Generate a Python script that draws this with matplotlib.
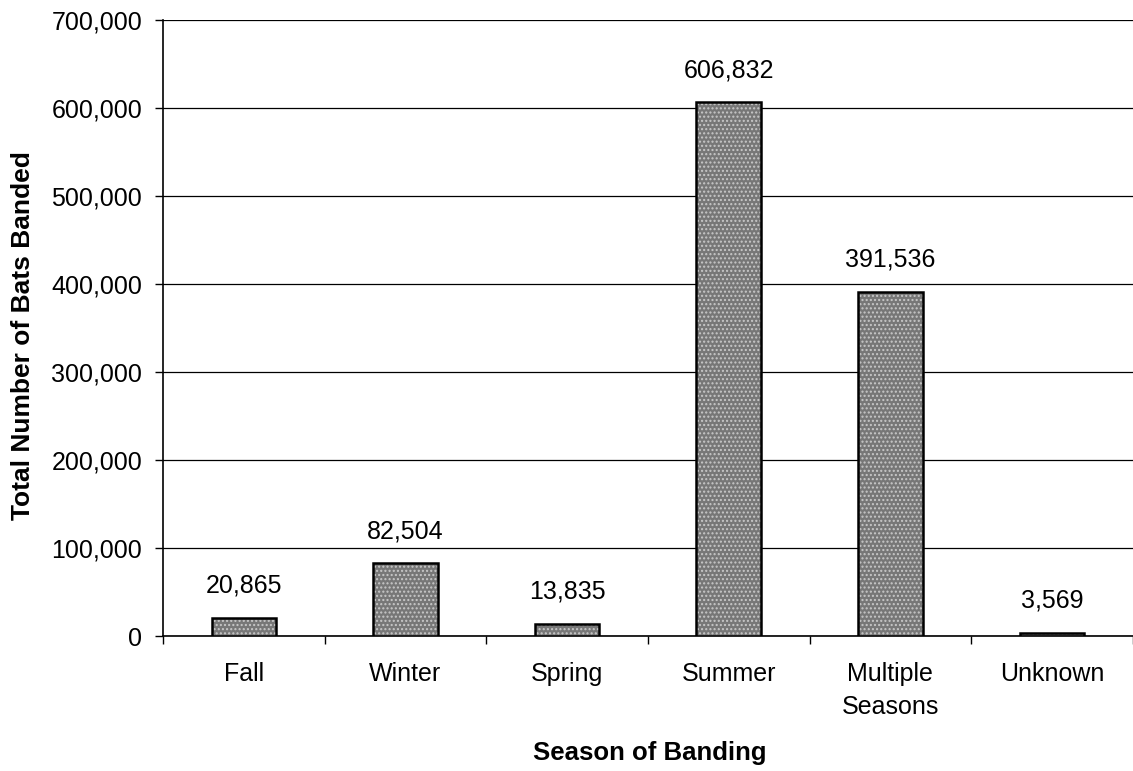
import matplotlib.pyplot as plt
import numpy as np

plt.rcParams['font.family'] = ['Liberation Sans', 'DejaVu Sans']
plt.rcParams['hatch.linewidth'] = 1.0

seasons = ['Fall', 'Winter', 'Spring', 'Summer', 'Multiple\nSeasons', 'Unknown']
bats = [20865, 82504, 13835, 606832, 391536, 3569]
yticks = np.arange(0, 700001, 100000)

fig = plt.figure(figsize=(11.33, 7.71), dpi=100)
ax = fig.add_axes([0.1439, 0.175, 0.856, 0.799])

x = np.arange(len(seasons))
# checkered fill, then a black outline on top
ax.bar(x, bats, width=0.4, color='#777777', edgecolor='#c8c8c8', linewidth=0,
       hatch='....', zorder=3)
ax.bar(x, bats, width=0.4, fill=False, edgecolor='black', linewidth=1.8, zorder=4)

for xi, v in zip(x, bats):
    ax.annotate(f'{v:,}', (xi, v), xytext=(0, 23), textcoords='offset points',
                ha='center', va='center', fontsize=18)

ax.set_xlim(-0.5, len(seasons) - 0.5)
ax.set_ylim(0, 700000)
ax.set_yticks(yticks)
ax.set_yticklabels([f'{t:,}' for t in yticks], fontsize=18)
ax.yaxis.grid(True, color='black', linewidth=0.9, zorder=0)

ax.set_xticks(x)
ax.set_xticklabels(seasons, fontsize=18, linespacing=1.45)
ax.set_xticks(np.arange(-0.5, len(seasons)), minor=True)
ax.tick_params(axis='x', which='major', length=0, pad=19)
ax.tick_params(axis='x', which='minor', length=6, direction='out', width=1)
ax.tick_params(axis='y', length=6, direction='out', width=1, pad=9)

for s in ['top', 'right']:
    ax.spines[s].set_visible(False)
ax.spines['left'].set_linewidth(1.2)
ax.spines['bottom'].set_linewidth(1.2)

fig.text(650 / 1133, 1 - 753 / 771, 'Season of Banding', fontsize=18.5,
         fontweight='bold', ha='center', va='center')
fig.text(23 / 1133, 1 - 336 / 771, 'Total Number of Bats Banded', fontsize=19,
         fontweight='bold', ha='center', va='center', rotation=90)

fig.savefig('out.png', dpi=100)
